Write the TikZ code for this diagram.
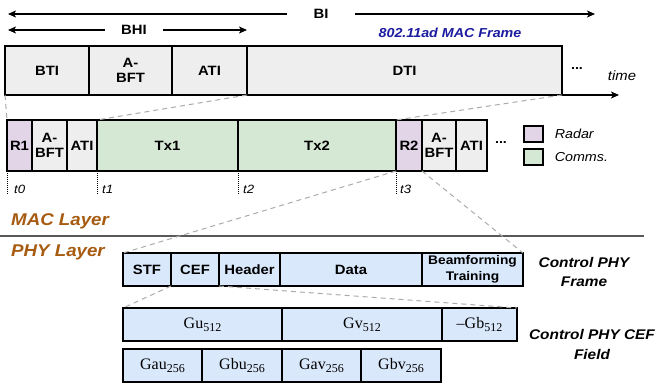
\documentclass[tikz,border=0pt]{standalone}
\usepackage{fontspec}
\setmainfont{Liberation Sans}[FakeStretch=1.1]
\newfontfamily\gfont{Liberation Serif}
\usetikzlibrary{arrows.meta,positioning}
\definecolor{grayfill}{HTML}{EEEEEE}
\definecolor{radarfill}{HTML}{E1D5E7}
\definecolor{commfill}{HTML}{D5E8D4}
\definecolor{phyfill}{HTML}{DAE8FC}
\definecolor{layerbrown}{HTML}{A65B11}
\definecolor{frameblue}{HTML}{1C1CA0}
\newcommand{\gsub}[2]{#1\raisebox{-3pt}{\fontsize{12}{12}\selectfont #2}}
\tikzset{
  cell/.style={draw=black, line width=1.2pt, inner sep=0pt, outer sep=0pt, anchor=north west, align=center, font=\bfseries\fontsize{13.5}{15}\selectfont},
  macbox/.style={cell, fill=grayfill, minimum height=49pt},
  slot/.style={cell, minimum height=51pt},
  phybox/.style={cell, fill=phyfill, minimum height=33pt},
  cefbox/.style={cell, fill=phyfill, minimum height=33pt, font=\gfont\fontsize{16}{16}\selectfont},
  zoomline/.style={draw=black!33, dash pattern=on 5pt off 4pt, line width=1pt},
  tick/.style={densely dotted, line width=1pt},
  arr/.style={-{Stealth[length=8pt,width=7pt,inset=2pt]}, line width=1.2pt},
  tlabel/.style={anchor=west, inner sep=0pt, font=\itshape\fontsize{12}{12}\selectfont},
  keybox/.style={draw=black, line width=1.2pt, inner sep=0pt, minimum width=19pt, minimum height=16pt},
  keytext/.style={right=11pt of #1, inner sep=0pt, font=\itshape\fontsize{13}{13}\selectfont},
  layer/.style={anchor=west, inner sep=0pt, text=layerbrown, font=\bfseries\itshape\fontsize{17}{17}\selectfont},
  side/.style={align=center, inner sep=0pt, font=\bfseries\itshape\fontsize{14}{19}\selectfont},
}

\begin{document}
\begin{tikzpicture}[x=1pt,y=-1pt]
\useasboundingbox (0,0) rectangle (662,389);

\node[inner sep=0pt, minimum width=68pt, font=\bfseries\fontsize{13.5}{13}\selectfont] (bi) at (321,14) {BI};
\coordinate (bileft) at (8,14);
\coordinate (biright) at (595,14);
\draw[arr] (bi.west) -- (bileft);
\draw[arr] (bi.east) -- (biright);
\node[inner sep=0pt, minimum width=58pt, font=\bfseries\fontsize{13.5}{13}\selectfont] (bhi) at (134,30) {BHI};
\coordinate (bhileft) at (8,30);
\coordinate (bhiright) at (247,30);
\draw[arr] (bhi.west) -- (bhileft);
\draw[arr] (bhi.east) -- (bhiright);
\node[text=frameblue, font=\bfseries\itshape\fontsize{13}{13}\selectfont] (macframe) at (450,33) {802.11ad MAC Frame};

\node[macbox, minimum width=84pt] (bti) at (5,46) {BTI};
\node[macbox, minimum width=83pt] (abft) at (bti.north east) {A-\\BFT};
\node[macbox, minimum width=75pt] (ati) at (abft.north east) {ATI};
\node[macbox, minimum width=315pt] (dti) at (ati.north east) {DTI};
\node[font=\bfseries\fontsize{13}{13}\selectfont] (dotsa) at (577,69) {...};
\node[font=\itshape\fontsize{13.5}{13}\selectfont] (time) at (622,76) {time};
\coordinate (timeend) at (619,95);
\draw[arr] (dti.south east) -- (timeend);

\node[slot, fill=radarfill, minimum width=25pt] (r1) at (7,120) {R1};
\node[slot, fill=grayfill, minimum width=35pt] (abfta) at (r1.north east) {A-\\BFT};
\node[slot, fill=grayfill, minimum width=30pt] (atia) at (abfta.north east) {ATI};
\node[slot, fill=commfill, minimum width=141pt] (tx1) at (atia.north east) {Tx1};
\node[slot, fill=commfill, minimum width=158pt] (tx2) at (tx1.north east) {Tx2};
\node[slot, fill=radarfill, minimum width=26pt] (r2) at (tx2.north east) {R2};
\node[slot, fill=grayfill, minimum width=34pt] (abftb) at (r2.north east) {A-\\BFT};
\node[slot, fill=grayfill, minimum width=31pt] (atib) at (abftb.north east) {ATI};
\node[font=\bfseries\fontsize{13}{13}\selectfont] (dotsb) at (501,143) {...};

\node[keybox, fill=radarfill] (radarkey) at (533.5,134) {};
\node[keytext=radarkey] (radar) {Radar};
\node[keybox, fill=commfill] (commkey) at (533.5,157) {};
\node[keytext=commkey] (comms) {Comms.};

\draw[zoomline] (bti.south west) -- (r1.north west);
\draw[zoomline] (dti.south west) -- (tx1.north west);
\draw[zoomline] (dti.south east) -- (r2.north west);

\coordinate (t0end) at (7,195);
\coordinate (t1end) at (97,195);
\coordinate (t2end) at (238,195);
\coordinate (t3end) at (396,195);
\draw[tick] (r1.south west) -- (t0end);
\draw[tick] (tx1.south west) -- (t1end);
\draw[tick] (tx2.south west) -- (t2end);
\draw[tick] (r2.south west) -- (t3end);
\node[tlabel] (t0) at (14,189) {t0};
\node[tlabel] (t1) at (102,189) {t1};
\node[tlabel] (t2) at (243,189) {t2};
\node[tlabel] (t3) at (400,189) {t3};

\node[layer] (maclayer) at (11,221) {MAC Layer};
\coordinate (sepleft) at (0,236);
\coordinate (sepright) at (644,236);
\draw[line width=1.5pt, black!65] (sepleft) -- (sepright);
\node[layer] (phylayer) at (11,252) {PHY Layer};

\node[phybox, minimum width=48pt] (stf) at (123,253) {STF};
\node[phybox, minimum width=48pt] (cef) at (stf.north east) {CEF};
\node[phybox, minimum width=61pt] (header) at (cef.north east) {Header};
\node[phybox, minimum width=142pt] (data) at (header.north east) {Data};
\node[phybox, minimum width=101pt, font=\bfseries\fontsize{12.5}{16}\selectfont] (bftrain) at (data.north east) {Beamforming\\Training};
\node[side] (ctrlframe) at (584,272) {Control PHY\\Frame};

\draw[zoomline] (r2.south west) -- (stf.north west);
\draw[zoomline] (r2.south east) -- (bftrain.north east);

\node[cefbox, minimum width=159pt] (gu) at (123,308) {\gsub{Gu}{512}};
\node[cefbox, minimum width=160pt] (gv) at (gu.north east) {\gsub{Gv}{512}};
\node[cefbox, minimum width=75pt] (gb) at (gv.north east) {\gsub{–Gb}{512}};
\node[cefbox, minimum width=79pt] (gau) at (123,349) {\gsub{Gau}{256}};
\node[cefbox, minimum width=80pt] (gbu) at (gau.north east) {\gsub{Gbu}{256}};
\node[cefbox, minimum width=79pt] (gav) at (gbu.north east) {\gsub{Gav}{256}};
\node[cefbox, minimum width=80pt] (gbv) at (gav.north east) {\gsub{Gbv}{256}};
\node[side, font=\bfseries\itshape\fontsize{14}{20}\selectfont] (ctrlcef) at (592,344) {Control PHY CEF\\Field};

\draw[zoomline] (cef.south west) -- (gu.north west);
\draw[zoomline] (cef.south east) -- (gb.north east);
\end{tikzpicture}
\end{document}
